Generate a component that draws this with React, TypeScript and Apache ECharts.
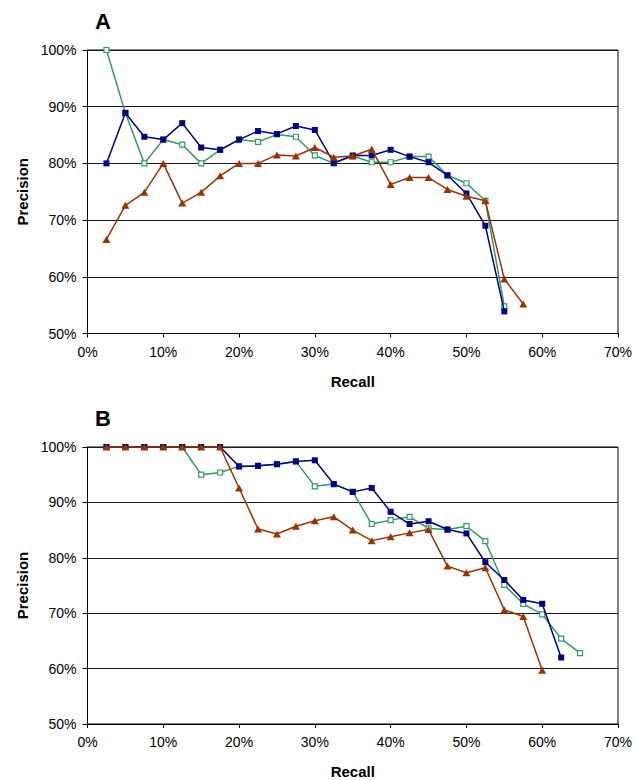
import React, { useEffect, useRef } from "react";
import * as echarts from "echarts";

// Recall (x, %) positions of each series
const recallA_blue = [2.5, 5, 7.5, 10, 12.5, 15, 17.5, 20, 22.5, 25, 27.5, 30, 32.5, 35, 37.5, 40, 42.5, 45, 47.5, 50, 52.5, 55];
const recallA_green = [2.5, 5, 7.5, 10, 12.5, 15, 17.5, 20, 22.5, 25, 27.5, 30, 32.5, 35, 37.5, 40, 42.5, 45, 47.5, 50, 52.5, 55];
const recallA_orange = [2.5, 5, 7.5, 10, 12.5, 15, 17.5, 20, 22.5, 25, 27.5, 30, 32.5, 35, 37.5, 40, 42.5, 45, 47.5, 50, 52.5, 55, 57.5];

// Precision (%) values, chart A
const precisionA_blue = [80.0, 88.9, 84.7, 84.2, 87.1, 82.8, 82.4, 84.2, 85.7, 85.2, 86.6, 85.9, 80.1, 81.4, 81.4, 82.4, 81.2, 80.2, 77.9, 74.7, 69.0, 53.9];
const precisionA_green = [100, 88.9, 80.0, 84.2, 83.3, 80.0, 82.4, 84.2, 83.8, 85.1, 84.7, 81.4, 80.0, 81.3, 80.2, 80.2, 81.2, 81.2, 77.9, 76.5, 73.4, 54.8];
const precisionA_orange = [66.6, 72.6, 74.9, 80.0, 73.0, 74.9, 77.8, 80.0, 80.0, 81.5, 81.3, 82.8, 81.1, 81.3, 82.5, 76.3, 77.5, 77.5, 75.4, 74.2, 73.4, 59.6, 55.2];

// Recall positions, chart B
const recallB_blue = [2.5, 5, 7.5, 10, 12.5, 15, 17.5, 20, 22.5, 25, 27.5, 30, 32.5, 35, 37.5, 40, 42.5, 45, 47.5, 50, 52.5, 55, 57.5, 60, 62.5];
const recallB_green = [2.5, 5, 7.5, 10, 12.5, 15, 17.5, 20, 22.5, 25, 27.5, 30, 32.5, 35, 37.5, 40, 42.5, 45, 47.5, 50, 52.5, 55, 57.5, 60, 62.5, 65];
const recallB_orange = [2.5, 5, 7.5, 10, 12.5, 15, 17.5, 20, 22.5, 25, 27.5, 30, 32.5, 35, 37.5, 40, 42.5, 45, 47.5, 50, 52.5, 55, 57.5, 60];

// Precision values, chart B
const precisionB_blue = [100, 100, 100, 100, 100, 100, 100, 96.5, 96.6, 96.9, 97.4, 97.6, 93.3, 91.9, 92.6, 88.3, 86.1, 86.6, 85.1, 84.4, 79.2, 76.0, 72.4, 71.7, 62.0];
const precisionB_green = [100, 100, 100, 100, 100, 95.0, 95.4, 96.5, 96.6, 96.9, 97.4, 92.9, 93.3, 91.9, 86.1, 86.8, 87.4, 85.3, 85.1, 85.7, 83.0, 75.1, 71.7, 69.8, 65.4, 62.8];
const precisionB_orange = [100, 100, 100, 100, 100, 100, 100, 92.6, 85.2, 84.3, 85.7, 86.7, 87.4, 85.0, 83.1, 83.8, 84.5, 85.1, 78.5, 77.3, 78.2, 70.6, 69.4, 59.7];

// Axis ticks
const xTicks = { min: 0, max: 70, interval: 10 };
const yTicks = { min: 50, max: 100, interval: 10 };
const panelLabels = ["A", "B"];

const FONT = "'Liberation Sans', Arial, sans-serif";
const BLUE = "#000080";
const GREEN = "#339966";
const ORANGE = "#993300";

const pairs = (xs: number[], ys: number[]) => xs.map((x, i) => [x, ys[i]]);

export default function App() {
  const ref = useRef<HTMLDivElement>(null);

  useEffect(() => {
    if (!ref.current) return;
    const chart = echarts.init(ref.current, undefined, { renderer: "svg" });

    const grids = [
      { left: 87.5, top: 50, width: 531, height: 283.5, show: true, borderColor: "#000", borderWidth: 1 },
      { left: 87.5, top: 447, width: 531, height: 277, show: true, borderColor: "#000", borderWidth: 1 },
    ];

    const xAxis = grids.map((_, i) => ({
      type: "value",
      gridIndex: i,
      min: xTicks.min,
      max: xTicks.max,
      interval: xTicks.interval,
      name: "Recall",
      nameLocation: "middle",
      nameGap: 40,
      nameTextStyle: { fontFamily: FONT, fontWeight: "bold", fontSize: 15, color: "#000" },
      axisLine: { show: true, lineStyle: { color: "#000", width: 1 } },
      axisTick: { show: true, inside: false, length: 4, lineStyle: { color: "#000" } },
      axisLabel: { formatter: "{value}%", fontFamily: FONT, fontSize: 14, color: "#000", margin: 11 },
      splitLine: { show: false },
    }));

    const yAxis = grids.map((_, i) => ({
      type: "value",
      gridIndex: i,
      min: yTicks.min,
      max: yTicks.max,
      interval: yTicks.interval,
      name: "Precision",
      nameLocation: "middle",
      nameGap: 55,
      nameTextStyle: { fontFamily: FONT, fontWeight: "bold", fontSize: 15, color: "#000" },
      axisLine: { show: true, lineStyle: { color: "#000", width: 1 } },
      axisTick: { show: true, inside: false, length: 5, lineStyle: { color: "#000" } },
      axisLabel: { formatter: "{value}%", fontFamily: FONT, fontSize: 14, color: "#000", margin: 11 },
      splitLine: { show: true, lineStyle: { color: "#1a1a1a", width: 1 } },
    }));

    const mk = (name: string, gi: number, xs: number[], ys: number[], kind: "blue" | "green" | "orange") => {
      const base: any = {
        name,
        type: "line",
        xAxisIndex: gi,
        yAxisIndex: gi,
        data: pairs(xs, ys),
        lineStyle: { width: 1.5 },
        z: kind === "green" ? 2 : kind === "blue" ? 3 : 4,
      };
      if (kind === "blue") {
        base.symbol = "rect";
        base.symbolSize = 6;
        base.itemStyle = { color: BLUE, borderColor: BLUE, borderWidth: 0 };
        base.lineStyle.color = BLUE;
      } else if (kind === "green") {
        base.symbol = "rect";
        base.symbolSize = 5;
        base.itemStyle = { color: "#fff", borderColor: GREEN, borderWidth: 1.2 };
        base.lineStyle.color = GREEN;
      } else {
        base.symbol = "triangle";
        base.symbolSize = [8, 7];
        base.itemStyle = { color: ORANGE, borderColor: ORANGE, borderWidth: 0 };
        base.lineStyle.color = ORANGE;
      }
      base.showAllSymbol = true;
      return base;
    };

    const series = [
      mk("A green", 0, recallA_green, precisionA_green, "green"),
      mk("A blue", 0, recallA_blue, precisionA_blue, "blue"),
      mk("A orange", 0, recallA_orange, precisionA_orange, "orange"),
      mk("B green", 1, recallB_green, precisionB_green, "green"),
      mk("B blue", 1, recallB_blue, precisionB_blue, "blue"),
      mk("B orange", 1, recallB_orange, precisionB_orange, "orange"),
    ];

    chart.setOption({
      animation: false,
      backgroundColor: "#fff",
      grid: grids,
      xAxis,
      yAxis,
      series,
      graphic: [
        {
          type: "text",
          left: 95,
          top: 10,
          style: { text: panelLabels[0], fontFamily: FONT, fontWeight: "bold", fontSize: 22, fill: "#000" },
        },
        {
          type: "text",
          left: 95,
          top: 407,
          style: { text: panelLabels[1], fontFamily: FONT, fontWeight: "bold", fontSize: 22, fill: "#000" },
        },
      ],
    });

    return () => chart.dispose();
  }, []);

  return (
    <div
      ref={ref}
      style={{ position: "absolute", left: 0, top: 0, width: 635, height: 780, background: "#fff" }}
    />
  );
}
